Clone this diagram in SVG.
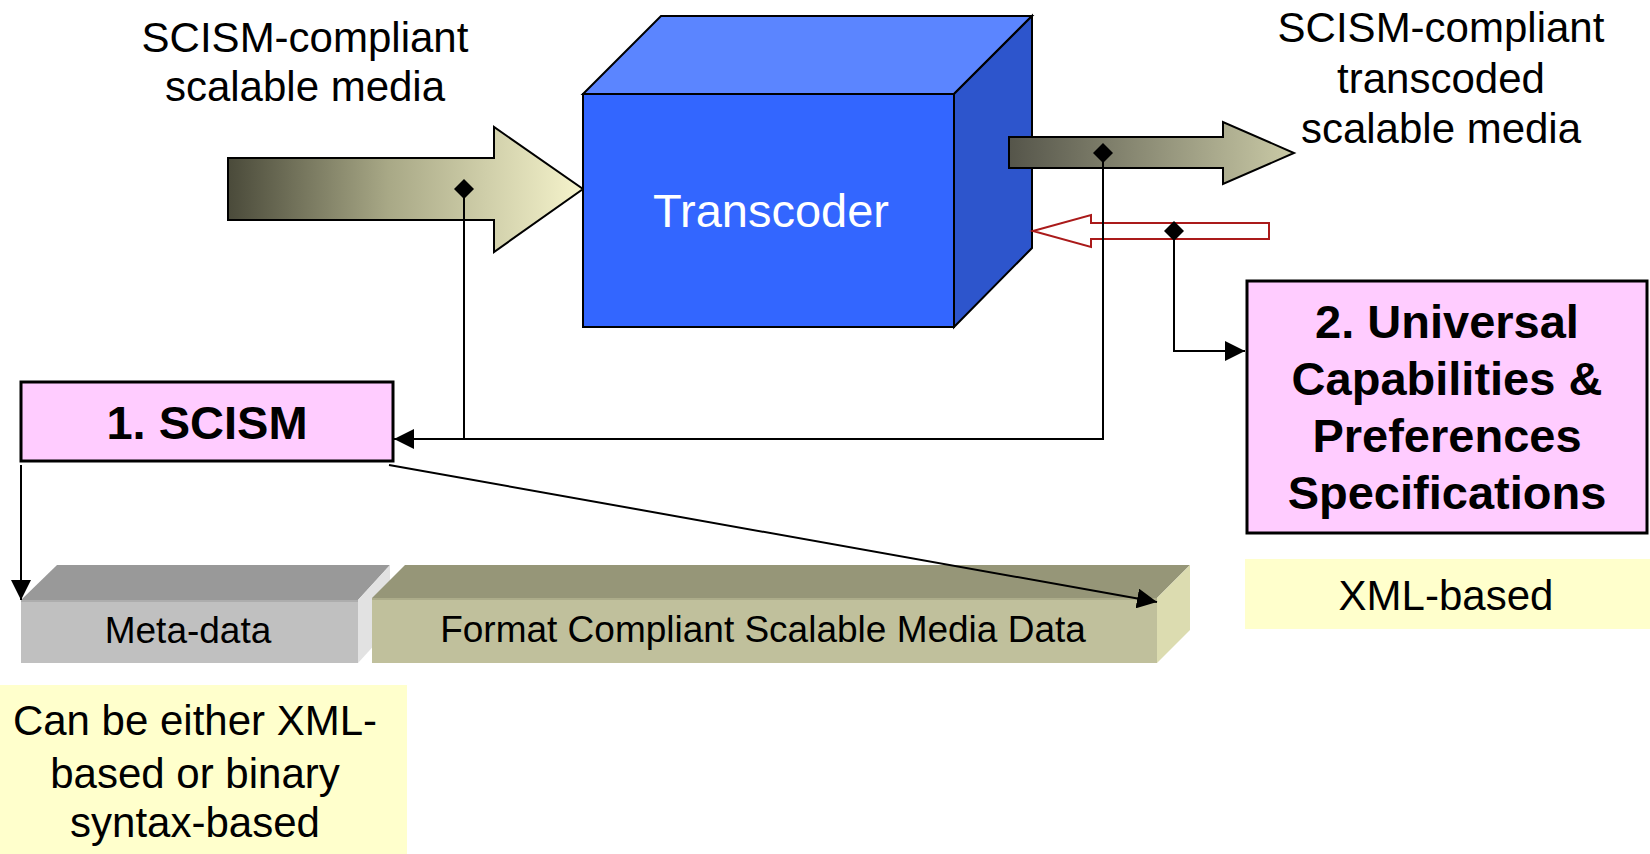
<svg xmlns="http://www.w3.org/2000/svg" width="1650" height="854" viewBox="0 0 1650 854">
  <style>
    .lbl { font-family: "Liberation Sans", Arial, sans-serif; font-size: 42px; fill: #000; text-anchor: middle; }
    .bold { font-family: "Liberation Sans", Arial, sans-serif; font-size: 47px; font-weight: bold; fill: #000; text-anchor: middle; }
    .blk { font-family: "Liberation Sans", Arial, sans-serif; font-size: 37px; fill: #000; text-anchor: middle; }
    .conn { fill: none; stroke: #000; stroke-width: 2; }
    .pink { fill: #ffccff; stroke: #000; stroke-width: 3; }
    .note { fill: #ffffcc; }
    .dia { fill: #000; }
  </style>
  <defs>
    <linearGradient id="gIn" x1="228" y1="0" x2="583" y2="0" gradientUnits="userSpaceOnUse">
      <stop offset="0" stop-color="#4a4a3a"/>
      <stop offset="0.45" stop-color="#a8a886"/>
      <stop offset="1" stop-color="#f6f4cc"/>
    </linearGradient>
    <linearGradient id="gOut" x1="1009" y1="0" x2="1294" y2="0" gradientUnits="userSpaceOnUse">
      <stop offset="0" stop-color="#55554a"/>
      <stop offset="1" stop-color="#cacaa6"/>
    </linearGradient>
    <marker id="ah" viewBox="0 0 20 20" refX="20" refY="10" markerWidth="20" markerHeight="20" markerUnits="userSpaceOnUse" orient="auto">
      <path d="M0,0 L20,10 L0,20 Z" fill="#000"/>
    </marker>
  </defs>

  <!-- input media label -->
  <g id="label-input">
    <text class="lbl" x="305" y="52">SCISM-compliant</text>
    <text class="lbl" x="305" y="101">scalable media</text>
  </g>

  <!-- output media label -->
  <g id="label-output">
    <text class="lbl" x="1441" y="42">SCISM-compliant</text>
    <text class="lbl" x="1441" y="93">transcoded</text>
    <text class="lbl" x="1441" y="143">scalable media</text>
  </g>

  <!-- input media stream arrow -->
  <g id="stream-in">
    <polygon points="228,158 494,158 494,127 583,189 494,252 494,220 228,220" fill="url(#gIn)" stroke="#000" stroke-width="2"/>
  </g>

  <!-- transcoder cube -->
  <g id="transcoder">
    <polygon points="583,94 661,16 1032,16 954,94" fill="#5b85ff" stroke="#000" stroke-width="2"/>
    <polygon points="954,94 1032,16 1032,248 954,327" fill="#2d55cc" stroke="#000" stroke-width="2"/>
    <rect x="583" y="94" width="371" height="233" fill="#3366ff" stroke="#000" stroke-width="2"/>
    <text x="771" y="227" font-family="Liberation Sans, Arial, sans-serif" font-size="47" fill="#fff" text-anchor="middle">Transcoder</text>
  </g>

  <!-- output media stream arrow -->
  <g id="stream-out">
    <polygon points="1009,137 1223,137 1223,122 1294,153 1223,184 1223,168 1009,168" fill="url(#gOut)" stroke="#000" stroke-width="2"/>
  </g>

  <!-- capabilities / preferences input arrow -->
  <g id="stream-prefs">
    <polygon points="1033,231 1091,215 1091,223 1269,223 1269,239 1091,239 1091,247" fill="#fff" stroke="#aa1a1a" stroke-width="2"/>
  </g>

  <!-- 1. SCISM -->
  <g id="scism">
    <rect class="pink" x="21" y="382" width="372" height="79"/>
    <text class="bold" x="207" y="439">1. SCISM</text>
  </g>

  <!-- 2. Universal Capabilities & Preferences Specifications -->
  <g id="ucps">
    <rect class="pink" x="1247" y="281" width="400" height="252"/>
    <text class="bold" x="1447" y="338">2. Universal</text>
    <text class="bold" x="1447" y="395">Capabilities &amp;</text>
    <text class="bold" x="1447" y="452">Preferences</text>
    <text class="bold" x="1447" y="509">Specifications</text>
  </g>

  <!-- XML-based note -->
  <g id="note-xml">
    <rect class="note" x="1245" y="559" width="405" height="70"/>
    <text class="lbl" x="1446" y="610">XML-based</text>
  </g>

  <!-- meta-data block -->
  <g id="metadata">
    <polygon points="21,600 57,565 390,565 358,600" fill="#999999"/>
    <polygon points="358,600 390,565 390,628 358,663" fill="#e2e2e2"/>
    <rect x="21" y="600" width="337" height="63" fill="#c0c0c0"/>
    <line x1="21" y1="601" x2="358" y2="601" stroke="#adadad" stroke-width="2"/>
    <text class="blk" x="188" y="643">Meta-data</text>
  </g>

  <!-- format compliant scalable media data block -->
  <g id="mediadata">
    <polygon points="372,598 405,565 1190,565 1157,598" fill="#969678"/>
    <polygon points="1157,598 1190,565 1190,630 1157,663" fill="#dcdcb0"/>
    <rect x="372" y="598" width="785" height="65" fill="#c0c09c"/>
    <line x1="372" y1="599" x2="1157" y2="599" stroke="#acac8a" stroke-width="2"/>
    <text class="blk" x="763" y="642">Format Compliant Scalable Media Data</text>
  </g>

  <!-- syntax note -->
  <g id="note-syntax">
    <rect class="note" x="0" y="685" width="407" height="169"/>
    <text class="lbl" x="195" y="735">Can be either XML-</text>
    <text class="lbl" x="195" y="788">based or binary</text>
    <text class="lbl" x="195" y="837">syntax-based</text>
  </g>

  <!-- connectors -->
  <g id="connectors">
    <polyline class="conn" points="464,189 464,439"/>
    <polyline class="conn" points="1103,153 1103,439 394,439" marker-end="url(#ah)"/>
    <polyline class="conn" points="1174,231 1174,351 1245,351" marker-end="url(#ah)"/>
    <line class="conn" x1="21" y1="465" x2="21" y2="600" marker-end="url(#ah)"/>
    <line class="conn" x1="389" y1="465" x2="1157" y2="602" stroke-width="3" marker-end="url(#ah)"/>
    <polygon class="dia" points="464,179 474,189 464,199 454,189"/>
    <polygon class="dia" points="1103,143 1113,153 1103,163 1093,153"/>
    <polygon class="dia" points="1174,221 1184,231 1174,241 1164,231"/>
  </g>
</svg>
